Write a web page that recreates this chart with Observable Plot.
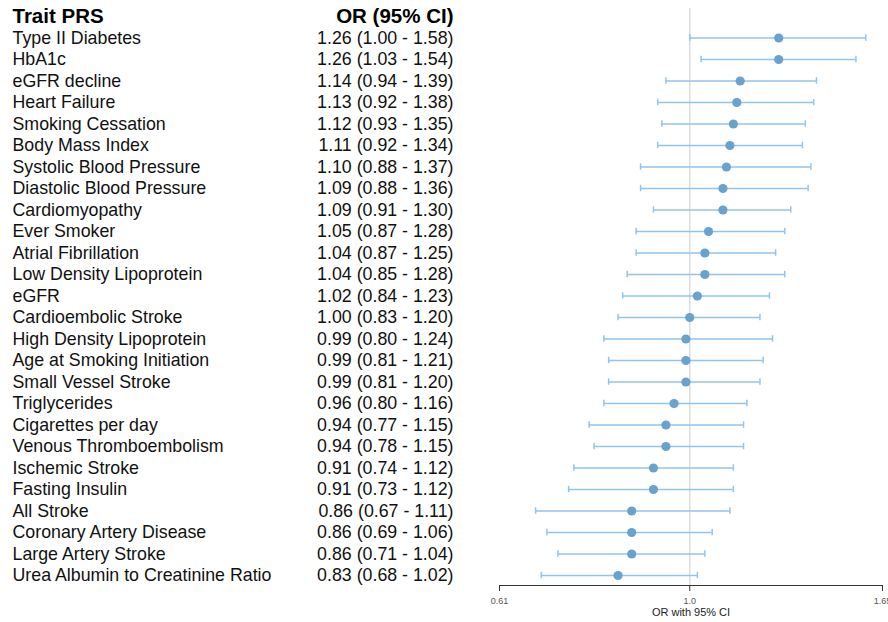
<!DOCTYPE html>
<html>
<head>
<meta charset="utf-8">
<script src="https://cdn.jsdelivr.net/npm/d3@7"></script>
<script src="https://cdn.jsdelivr.net/npm/@observablehq/plot@0.6"></script>
<style>
  html, body { margin: 0; padding: 0; background: #fff; }
  #chart svg { display: block; }
</style>
</head>
<body>
<div id="chart"></div>
<script>
const traits = ["Type II Diabetes","HbA1c","eGFR decline","Heart Failure","Smoking Cessation","Body Mass Index","Systolic Blood Pressure","Diastolic Blood Pressure","Cardiomyopathy","Ever Smoker","Atrial Fibrillation","Low Density Lipoprotein","eGFR","Cardioembolic Stroke","High Density Lipoprotein","Age at Smoking Initiation","Small Vessel Stroke","Triglycerides","Cigarettes per day","Venous Thromboembolism","Ischemic Stroke","Fasting Insulin","All Stroke","Coronary Artery Disease","Large Artery Stroke","Urea Albumin to Creatinine Ratio"];
const orValues = [1.26,1.26,1.14,1.13,1.12,1.11,1.10,1.09,1.09,1.05,1.04,1.04,1.02,1.00,0.99,0.99,0.99,0.96,0.94,0.94,0.91,0.91,0.86,0.86,0.86,0.83];
const ciLow = [1.00,1.03,0.94,0.92,0.93,0.92,0.88,0.88,0.91,0.87,0.87,0.85,0.84,0.83,0.80,0.81,0.81,0.80,0.77,0.78,0.74,0.73,0.67,0.69,0.71,0.68];
const ciHigh = [1.58,1.54,1.39,1.38,1.35,1.34,1.37,1.36,1.30,1.28,1.25,1.28,1.23,1.20,1.24,1.21,1.20,1.16,1.15,1.15,1.12,1.12,1.11,1.06,1.04,1.02];
const xTicks = [0.61, 1.0, 1.65];
const xTickLabels = ["0.61", "1.0", "1.65"];
const headerLabel = "Trait PRS";
const headerOR = "OR (95% CI)";
const axisTitle = "OR with 95% CI";

const HEADER = "__header__";
const rows = traits.map((t, i) => ({
  trait: t, or: orValues[i], lo: ciLow[i], hi: ciHigh[i],
  text: `${orValues[i].toFixed(2)} (${ciLow[i].toFixed(2)} - ${ciHigh[i].toFixed(2)})`
}));

const font = "'Liberation Sans', Arial, sans-serif";
const dotColor = "#68a2cf";
const lineColor = "#92c5ec";

const chart = Plot.plot({
  width: 888,
  height: 622,
  marginLeft: 499,
  marginRight: 6,
  marginTop: 8,
  marginBottom: 37,
  style: { fontFamily: font, background: "#fff" },
  x: { type: "log", domain: [0.61, 1.65] },
  y: { type: "band", domain: [HEADER, ...traits], range: [5.25, 585.75], padding: 0, round: false, axis: null },
  marks: [
    Plot.ruleX([1], { stroke: "#dcdcdc", strokeWidth: 1.5 }),
    Plot.frame({ anchor: "bottom", stroke: "#333", strokeWidth: 1 }),
    Plot.axisX({
      ticks: xTicks,
      tickFormat: (d) => xTickLabels[xTicks.indexOf(d)],
      tickSize: 6,
      tickPadding: 6,
      fontSize: 9,
      stroke: "#333",
      fill: "#555",
      label: null
    }),
    Plot.text([axisTitle], { frameAnchor: "bottom", dy: 30.5, fontSize: 11, fill: "#222", text: d => d }),
    Plot.ruleY(rows, { y: "trait", x1: "lo", x2: "hi", stroke: lineColor, strokeWidth: 1.6 }),
    Plot.tickX(rows, { y: "trait", x: "lo", stroke: lineColor, strokeWidth: 1.5, insetTop: 7.5, insetBottom: 7.5 }),
    Plot.tickX(rows, { y: "trait", x: "hi", stroke: lineColor, strokeWidth: 1.5, insetTop: 7.5, insetBottom: 7.5 }),
    Plot.dot(rows, { y: "trait", x: "or", r: 4.6, fill: dotColor, stroke: null }),
    Plot.text(rows, { y: "trait", text: "trait", frameAnchor: "left", dx: -487, textAnchor: "start", fontSize: 17.8, fill: "#111" }),
    Plot.text(rows, { y: "trait", text: "text", frameAnchor: "left", dx: -46, textAnchor: "end", fontSize: 17.8, fill: "#111" }),
    Plot.text([headerLabel], { y: () => HEADER, text: d => d, frameAnchor: "left", dx: -487, textAnchor: "start", fontSize: 20.5, fontWeight: "bold", fill: "#000" }),
    Plot.text([headerOR], { y: () => HEADER, text: d => d, frameAnchor: "left", dx: -46, textAnchor: "end", fontSize: 20.5, fontWeight: "bold", fill: "#000" })
  ]
});
document.getElementById("chart").appendChild(chart);
</script>
</body>
</html>
